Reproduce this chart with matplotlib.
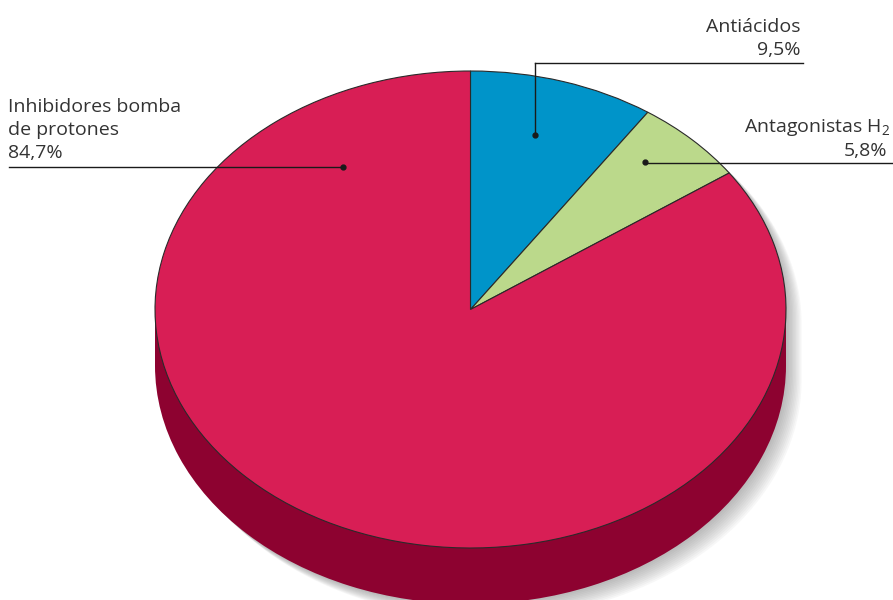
import numpy as np
import matplotlib
matplotlib.use('Agg')
import matplotlib.pyplot as plt
from matplotlib.patches import Rectangle, Polygon

plt.rcParams['font.family'] = ['Open Sans', 'DejaVu Sans']
plt.rcParams['mathtext.fontset'] = 'custom'
plt.rcParams['mathtext.rm'] = 'Open Sans'

# data
categories = ['Antiácidos', 'Antagonistas H$_2$', 'Inhibidores bomba\nde protones']
shares = [9.5, 5.8, 84.7]
share_labels = ['9,5%', '5,8%', '84,7%']
colors = ['#0094c9', '#bbd98b', '#d81e55']
side_color = '#8d0230'

W, H = 893, 600
fig = plt.figure(figsize=(W / 100, H / 100), dpi=100)

# pie axes: unit circle -> ellipse centred at (470.5, 309.5) px, radii 315.5 x 238.5
cx, cy, rx, ry = 470.5, 309.5, 315.5, 238.5
xl, xr, yt, yb = -1.2, 1.2, 1.2, -1.6
ax = fig.add_axes([(cx + xl * rx) / W, (H - (cy - yb * ry)) / H,
                   (xr - xl) * rx / W, (yt - yb) * ry / H])
depth = 0.235

# soft shadow behind the cylinder
t1 = np.linspace(0, np.pi, 200)
t2 = np.linspace(np.pi, 2 * np.pi, 200)
sil = np.vstack([np.column_stack([np.cos(t1), np.sin(t1)]),
                 np.column_stack([np.cos(t2), np.sin(t2) - depth])])
for k in range(1, 12):
    off = np.array([0.0045 * k, -0.0055 * k])
    ax.add_patch(Polygon(sil + off, closed=True, facecolor='#6e6e6e',
                         edgecolor='none', alpha=0.05, zorder=0))

# side of the cylinder
ax.pie([1], colors=[side_color], radius=1, center=(0, -depth),
       wedgeprops=dict(edgecolor='none', zorder=1))
ax.add_patch(Rectangle((-1, -depth), 2, depth, facecolor=side_color,
                       edgecolor='none', zorder=1))

# top face
wedges, _ = ax.pie(shares, colors=colors, startangle=90, counterclock=False,
                   wedgeprops=dict(edgecolor='#2a2a2a', linewidth=0.8))
for w in wedges:
    w.set_zorder(3)

ax.set_aspect('auto')
ax.set_xlim(xl, xr)
ax.set_ylim(yb, yt)
ax.axis('off')

# labels in pixel coordinates
lab = fig.add_axes([0, 0, 1, 1])
lab.set_xlim(0, W)
lab.set_ylim(H, 0)
lab.axis('off')
lab.patch.set_alpha(0)

fs = 14
tc = '#333333'
lc = '#1a1a1a'

# Antiácidos
lab.text(800, 32, categories[0], ha='right', va='baseline', fontsize=fs, color=tc)
lab.text(800, 55, share_labels[0], ha='right', va='baseline', fontsize=fs, color=tc)
lab.plot([535, 803], [62.5, 62.5], color=lc, lw=1)
lab.plot([535, 535], [62.5, 135], color=lc, lw=1)
lab.plot([535], [135], 'o', color=lc, ms=3.5)

# Antagonistas H2
lab.text(890, 131.5, categories[1], ha='right', va='baseline', fontsize=fs, color=tc)
lab.text(887, 156, share_labels[1], ha='right', va='baseline', fontsize=fs, color=tc)
lab.plot([645, 893], [162.5, 162.5], color=lc, lw=1)
lab.plot([645], [162], 'o', color=lc, ms=3.5)

# Inhibidores bomba de protones
for i, line in enumerate(categories[2].split('\n') + [share_labels[2]]):
    lab.text(8, 111.5 + i * 23.3, line, ha='left', va='baseline', fontsize=fs, color=tc)
lab.plot([9, 343], [167, 167], color=lc, lw=1)
lab.plot([343], [167], 'o', color=lc, ms=3.5)

fig.savefig('out.png', dpi=100)
